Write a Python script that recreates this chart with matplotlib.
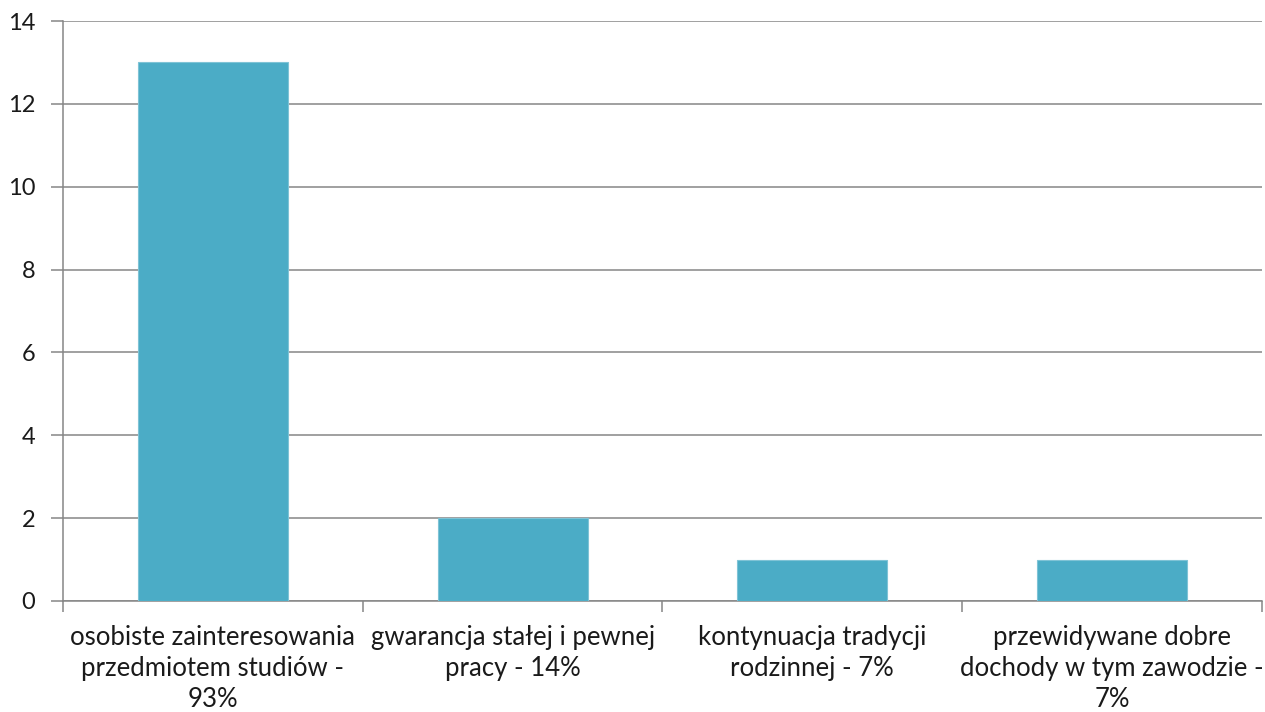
import matplotlib.pyplot as plt
import numpy as np

plt.rcParams['font.family'] = ['Lato', 'DejaVu Sans']

categories = ['osobiste zainteresowania\nprzedmiotem studiów -\n93%',
              'gwarancja stałej i pewnej\npracy - 14%',
              'kontynuacja tradycji\nrodzinnej - 7%',
              'przewidywane dobre\ndochody w tym zawodzie -\n7%']
values = [13, 2, 1, 1]
y_ticks = [0, 2, 4, 6, 8, 10, 12, 14]

fig = plt.figure(figsize=(12.65, 7.12), dpi=100)
ax = fig.add_axes([0.0498, 0.1559, 0.9478, 0.8146])

x = np.arange(len(categories))
ax.bar(x, values, 0.5, color='#4BACC6', edgecolor='#7FC3D6', linewidth=0.8, zorder=3)

ax.set_xlim(-0.5, len(categories) - 0.5)
ax.set_ylim(0, 14)
ax.set_yticks(y_ticks)
ax.yaxis.grid(True, color='#868686', linewidth=1.1, zorder=0)

# category labels centred, tick marks on the boundaries
ax.set_xticks(x)
ax.set_xticklabels(categories, fontsize=18.5, color='#1a1a1a', linespacing=1.3)
ax.tick_params(axis='x', which='major', length=0, pad=17)
ax.set_xticks(np.arange(len(categories) + 1) - 0.5, minor=True)
ax.tick_params(axis='x', which='minor', length=8, color='#868686', width=1.1)
ax.tick_params(axis='y', length=9, color='#868686', width=1.1, labelsize=17,
               labelcolor='#1a1a1a', pad=11)

for s in ['top', 'right']:
    ax.spines[s].set_visible(False)
for s in ['left', 'bottom']:
    ax.spines[s].set_color('#868686')
    ax.spines[s].set_linewidth(1.1)

fig.savefig('out.png', dpi=100)
